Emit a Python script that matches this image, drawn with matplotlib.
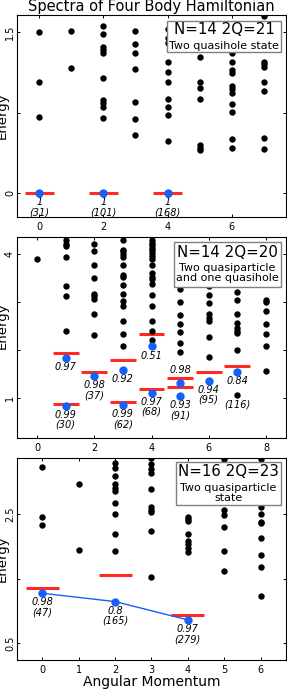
import matplotlib
matplotlib.use("Agg")
import matplotlib.pyplot as plt
from matplotlib.patches import Rectangle

# ---- panel 1 : N=14 2Q=21 ----
p1_levels = {
    0: [1.500, 1.040, 0.708],
    1: [1.516, 1.171],
    2: [1.559, 1.484, 1.360, 1.332, 1.311, 1.071, 0.870, 0.839, 0.807, 0.702],
    3: [1.516, 1.394, 1.311, 1.155, 0.854, 0.693, 0.540],
    4: [1.531, 1.444, 1.398, 1.220, 1.134, 1.034, 0.882, 0.807, 0.727, 0.488],
    5: [1.273, 1.034, 0.978, 0.882, 0.450, 0.425, 0.404],
    6: [1.311, 1.227, 1.149, 1.124, 1.000, 0.972, 0.932, 0.832, 0.761, 0.503, 0.425],
    7: [1.652, 1.227, 1.202, 1.180, 1.034, 0.950, 0.512, 0.416],
}
p1_bar_L = [0, 2, 4]
p1_bar_E = [0.0, 0.0, 0.0]
p1_ov_L = [0, 2, 4]
p1_ov_E = [0.0, 0.0, 0.0]
p1_ov_text = ["1\n(31)", "1\n(101)", "1\n(168)"]
p1_ov_side = ["below", "below", "below"]
p1_box = ["N=14 2Q=21", "Two quasihole state"]

# ---- panel 2 : N=14 2Q=20 ----
p2_levels = {
    0: [3.896],
    1: [4.278, 4.215, 4.160, 3.938, 3.326, 3.132, 2.403],
    2: [4.215, 4.056, 3.764, 3.493, 3.167, 3.118, 3.069, 2.757, 2.306],
    3: [4.278, 4.090, 4.056, 4.007, 3.938, 3.764, 3.563, 3.514, 3.361, 3.167,
        3.014, 2.910, 2.597, 2.333, 2.076],
    4: [4.292, 4.229, 4.174, 4.125, 4.076, 4.021, 3.951, 3.889, 3.764, 3.597,
        3.528, 3.479, 3.375, 3.139, 2.910, 2.597, 2.389, 2.215],
    5: [3.278, 3.000, 2.736, 2.542, 2.368, 2.153, 1.972],
    6: [3.326, 3.153, 2.979, 2.750, 2.667, 2.597, 2.271, 1.861],
    7: [3.208, 3.035, 2.757, 2.563, 2.458, 2.403, 2.354, 1.993, 1.069],
    8: [3.049, 2.993, 2.819, 2.542, 2.340, 2.090, 1.569],
}
p2_bar_L = [1, 1, 2, 3, 3, 4, 4, 5, 5, 6, 7]
p2_bar_E = [1.944, 0.882, 1.542, 1.792, 0.924, 2.340, 1.201, 1.431, 1.229, 1.549, 1.681]
p2_ov_L = [1, 1, 2, 3, 3, 4, 4, 5, 5, 6, 7]
p2_ov_E = [1.833, 0.847, 1.465, 1.590, 0.861, 2.076, 1.118, 1.326, 1.042, 1.368, 1.556]
p2_ov_text = ["0.97", "0.99\n(30)", "0.98\n(37)", "0.92", "0.99\n(62)", "0.51",
              "0.97\n(68)", "0.98", "0.93\n(91)", "0.94\n(95)", "0.84"]
p2_ov_side = ["below", "below", "below", "below", "below", "below",
              "below", "above", "below", "below", "below"]
p2_note_L = [7]
p2_note_E = [1.069]
p2_note_text = ["(116)"]
p2_box = ["N=14 2Q=20", "Two quasiparticle\nand one quasihole"]

# ---- panel 3 : N=16 2Q=23 ----
p3_levels = {
    0: [3.239, 2.464, 2.335],
    1: [2.970, 1.947],
    2: [3.301, 3.213, 3.099, 2.965, 2.913, 2.862, 2.671, 2.500, 2.190, 1.937],
    3: [3.368, 3.275, 3.198, 3.136, 2.888, 2.609, 2.567, 2.541, 2.242, 1.534],
    4: [2.464, 2.428, 2.402, 2.195, 2.087, 2.040, 1.973, 1.921],
    5: [3.353, 2.567, 2.490, 2.309, 1.932, 1.627],
    6: [3.353, 2.609, 2.505, 2.386, 2.360, 2.138, 1.870, 1.689, 1.234],
}
p3_bar_L = [0, 2, 4]
p3_bar_E = [1.353, 1.559, 0.939]
p3_ov_L = [0, 2, 4]
p3_ov_E = [1.275, 1.146, 0.862]
p3_ov_text = ["0.98\n(47)", "0.8\n(165)", "0.97\n(279)"]
p3_ov_side = ["below", "below", "below"]
p3_box = ["N=16 2Q=23", "Two quasiparticle\nstate"]

BLUE = "#1560f5"
RED = "#ff2a1f"

fig = plt.figure(figsize=(2.87, 6.91), dpi=100)


def draw_panel(ax, levels, bar_L, bar_E, ov_L, ov_E, ov_text, ov_side, connect=False):
    for L, Es in levels.items():
        ax.plot([L] * len(Es), Es, "o", color="black", ms=4.6, mew=0, zorder=3)
    ax.hlines(bar_E, [l - 0.45 for l in bar_L], [l + 0.45 for l in bar_L],
              color=RED, lw=2.2, zorder=2)
    if connect:
        ax.plot(ov_L, ov_E, "-", color=BLUE, lw=1.0, zorder=3)
    ax.plot(ov_L, ov_E, "o", color=BLUE, ms=6, mew=0, zorder=4)
    for L, E, t, side in zip(ov_L, ov_E, ov_text, ov_side):
        if side == "below":
            ax.annotate(t, (L, E), xytext=(0, -3), textcoords="offset points",
                        ha="center", va="top", fontsize=7, style="italic",
                        linespacing=1.0, zorder=1)
        else:
            ax.annotate(t, (L, E), xytext=(0, 5.5), textcoords="offset points",
                        ha="center", va="bottom", fontsize=7, style="italic",
                        linespacing=1.0, zorder=1)


def style_axes(ax, xlim, ylim, xticks, yticks, ylabels, label_y=0.5):
    ax.set_xlim(*xlim)
    ax.set_ylim(*ylim)
    ax.set_xticks(xticks)
    ax.set_yticks(yticks)
    ax.set_yticklabels(ylabels, rotation=90, va="center")
    ax.tick_params(direction="in", top=True, right=True, length=2.5, width=0.7,
                   labelsize=7)
    ax.tick_params(axis="x", pad=3.5)
    ax.tick_params(axis="y", pad=1.5)
    for s in ax.spines.values():
        s.set_linewidth(0.8)
    ax.set_ylabel("Energy", fontsize=9.5)
    ax.yaxis.set_label_coords(-0.03, label_y)


def info_box(ax, rect, title, sub, title_y, sub_y):
    x0, y0, x1, y1 = rect
    ax.add_patch(Rectangle((x0, y0), x1 - x0, y1 - y0, transform=ax.transAxes,
                           facecolor="white", edgecolor="0.5", lw=1.0, zorder=6))
    cx = (x0 + x1) / 2
    ax.text(cx, title_y, title, transform=ax.transAxes, ha="center", va="center",
            fontsize=10.8, zorder=7)
    ax.text(cx, sub_y, sub, transform=ax.transAxes, ha="center", va="center",
            fontsize=8, linespacing=1.0, zorder=7)


left, width = 17 / 287, 269 / 287

ax1 = fig.add_axes([left, 0.6864, width, 0.2923])
draw_panel(ax1, p1_levels, p1_bar_L, p1_bar_E, p1_ov_L, p1_ov_E, p1_ov_text, p1_ov_side)
style_axes(ax1, (-0.7, 7.7), (-0.218, 1.664), [0, 2, 4, 6], [0, 0.75, 1.5], ["0", "", "1.5"])
ax1.set_title("Spectra of Four Body Hamiltonian", fontsize=10.5, pad=2.5)
info_box(ax1, (0.558, 0.817, 0.981, 0.969), p1_box[0], p1_box[1], 0.926, 0.847)

ax2 = fig.add_axes([left, 0.3661, width, 0.2909])
draw_panel(ax2, p2_levels, p2_bar_L, p2_bar_E, p2_ov_L, p2_ov_E, p2_ov_text, p2_ov_side)
for L, E, t in zip(p2_note_L, p2_note_E, p2_note_text):
    ax2.annotate(t, (L, E), xytext=(0, -3), textcoords="offset points",
                 ha="center", va="top", fontsize=7, style="italic")
style_axes(ax2, (-0.7, 8.7), (0.175, 4.35), [0, 2, 4, 6, 8], [1, 2, 3, 4],
           ["1", "", "", "4"], label_y=0.56)
info_box(ax2, (0.584, 0.753, 0.981, 0.974), p2_box[0], p2_box[1], 0.925, 0.820)

ax3 = fig.add_axes([left, 0.0449, width, 0.2919])
draw_panel(ax3, p3_levels, p3_bar_L, p3_bar_E, p3_ov_L, p3_ov_E, p3_ov_text, p3_ov_side,
           connect=True)
style_axes(ax3, (-0.7, 6.7), (0.24, 3.37), [0, 1, 2, 3, 4, 5, 6], [0.5, 1.5, 2.5],
           ["0.5", "", "2.5"])
ax3.set_xlabel("Angular Momentum", fontsize=10, labelpad=0)
info_box(ax3, (0.590, 0.768, 0.981, 0.983), p3_box[0], p3_box[1], 0.932, 0.830)

fig.savefig("out.png", dpi=100)
